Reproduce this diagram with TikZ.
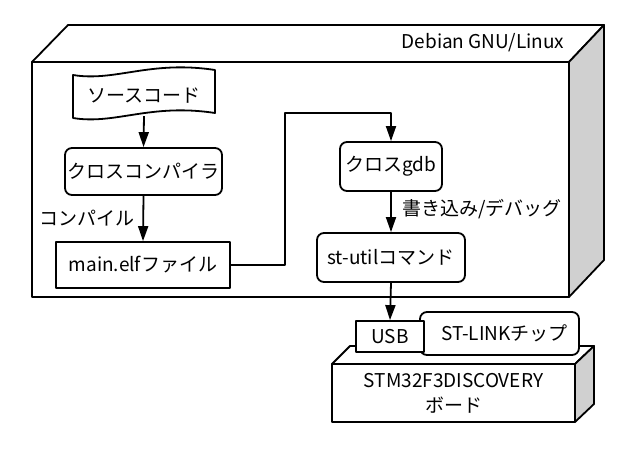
\documentclass[tikz,border=0pt]{standalone}
\usepackage{fontspec}
\setmainfont{Noto Sans CJK JP}
\usetikzlibrary{arrows.meta}
\begin{document}
\begin{tikzpicture}[x=1pt,y=-1pt,
  lw/.style={line width=1.8pt, line join=round},
  boxbase/.style={lw, draw, fill=white, inner sep=0pt, font=\fontsize{19}{22}\selectfont},
  sqbox/.style={boxbase},
  rbox/.style={boxbase, rounded corners=7pt},
  face/.style={lw, draw, fill=white},
  side/.style={lw, draw, fill=sidegray},
  conn/.style={lw, -{Triangle[length=15pt,width=10pt]}},
  lbl/.style={font=\fontsize{19}{22}\selectfont, inner sep=0pt}
]
\definecolor{sidegray}{HTML}{D0D0D0}
\useasboundingbox (0,0) rectangle (640,453);
% host machine (3D box)
\draw[face] (32,62) -- (68,25) -- (604,25) -- (569,62) -- cycle;
\draw[side] (569,62) -- (604,25) -- (604,260) -- (569,297) -- cycle;
\draw[face] (32,62) rectangle (569,297);
\node[lbl] (debian) at (483,43) {Debian GNU/Linux};
% source code (tape shape)
\node[lbl, minimum width=142pt, minimum height=42pt] (src) at (144,95) {};
\draw[face] (73,75) .. controls (115,82) and (150,60) .. (215,70)
  -- (215,113) .. controls (150,103) and (115,125) .. (73,118) -- cycle;
\node[lbl] at (144,96) {ソースコード};
% nodes
\node[rbox, minimum width=157pt, minimum height=47pt] (cc) at (143.5,171.5) {クロスコンパイラ};
\node[sqbox, minimum width=174pt, minimum height=46pt] (elf) at (143,265) {main.elfファイル};
\node[rbox, minimum width=102pt, minimum height=49pt] (gdb) at (391,166.5) {クロスgdb};
\node[rbox, minimum width=148pt, minimum height=49pt] (stu) at (391,257.5) {st-utilコマンド};
% board
\draw[face] (332,364) -- (350,346) -- (594,346) -- (575,364) -- cycle;
\draw[side] (575,364) -- (594,346) -- (594,404) -- (575,422) -- cycle;
\node[sqbox, minimum width=243pt, minimum height=58pt, align=center,
  font=\fontsize{19}{25}\selectfont] (board) at (453.5,393) {STM32F3DISCOVERY\\ボード};
\node[rbox, minimum width=159pt, minimum height=43pt] (stl) at (499.5,333.5) {\hspace*{10pt}ST-LINKチップ};
\node[sqbox, minimum width=68pt, minimum height=31pt] (usb) at (390,336.5) {USB};
% connectors
\coordinate (bend) at (285,113);
\draw[conn] (src.south) -- (cc.north);
\draw[conn] (cc.south) -- (elf.north);
\node[lbl] (lcomp) at (87,218) {コンパイル};
\draw[conn] (elf.east) -| (bend) -| (gdb.north);
\draw[conn] (gdb.south) -- (stu.north);
\node[lbl] (lwrite) at (482,209) {書き込み/デバッグ};
\draw[conn] (stu.south) -- (usb.north);
\end{tikzpicture}
\end{document}
